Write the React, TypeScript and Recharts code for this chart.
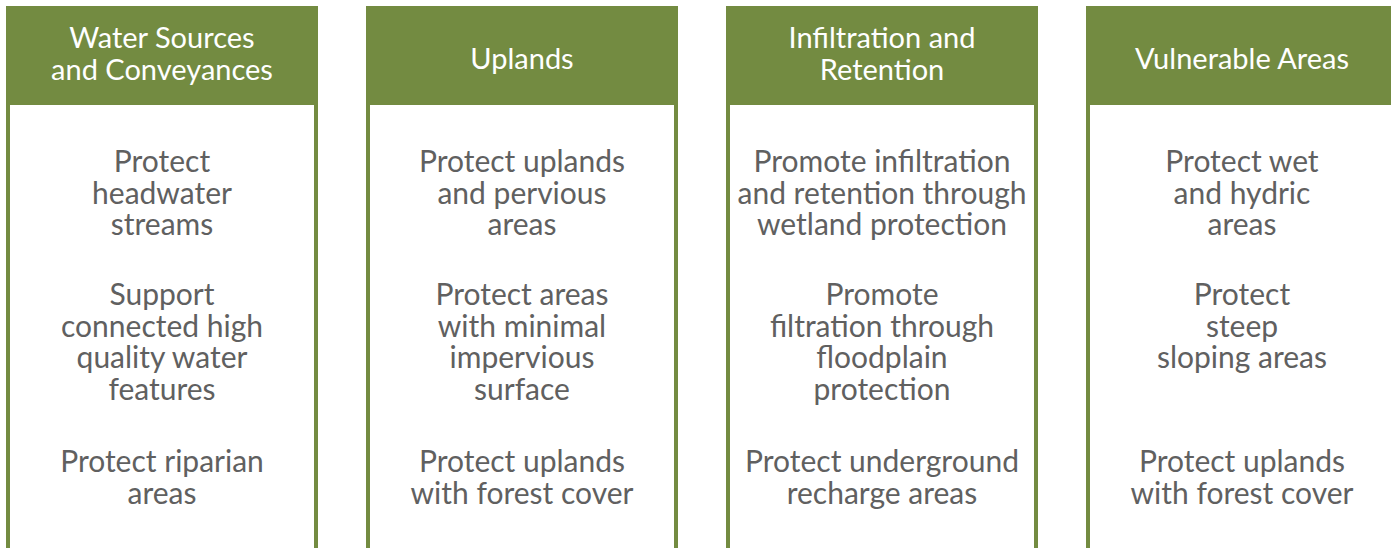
import { BarChart, Bar, XAxis, YAxis } from 'recharts'

// column titles, one array per column (lines)
const headers = [
  ['Water Sources', 'and Conveyances'],
  ['Uplands'],
  ['Infiltration and', 'Retention'],
  ['Vulnerable Areas'],
]

// three goal blocks per column, top to bottom
const goalsTop = [
  ['Protect', 'headwater', 'streams'],
  ['Protect uplands', 'and pervious', 'areas'],
  ['Promote infiltration', 'and retention through', 'wetland protection'],
  ['Protect wet', 'and hydric', 'areas'],
]
const goalsMiddle = [
  ['Support', 'connected high', 'quality water', 'features'],
  ['Protect areas', 'with minimal', 'impervious', 'surface'],
  ['Promote', 'filtration through', 'floodplain', 'protection'],
  ['Protect', 'steep', 'sloping areas'],
]
const goalsBottom = [
  ['Protect riparian', 'areas'],
  ['Protect uplands', 'with forest cover'],
  ['Protect underground', 'recharge areas'],
  ['Protect uplands', 'with forest cover'],
]

const GREEN = '#738b41'
const GREY = '#606060'
const FONT = 'Lato, "Open Sans", sans-serif'
const LINE = 31.5

// y scale runs in page pixels from the bottom (548 tall)
const BODY = 443
const HEAD = 99

const data = headers.map((h, i) => ({
  key: `c${i}`,
  title: h,
  goals: [goalsTop[i], goalsMiddle[i], goalsBottom[i]],
  body: BODY,
  head: HEAD,
}))

const goalBaselines = [172, 305, 472]

const Lines = ({ x, y, lines, fill, size }: { x: number; y: number; lines: string[]; fill: string; size: number }) => (
  <text x={x} y={y} textAnchor="middle" fill={fill} fontFamily={FONT} fontSize={size}>
    {lines.map((l, k) => (
      <tspan key={k} x={x} y={y + k * LINE}>{l}</tspan>
    ))}
  </text>
)

const BodyShape = (props: any) => {
  const { x, y, width, height, payload } = props
  const cx = x + width / 2
  return (
    <g>
      <rect x={x} y={y} width={width} height={height} fill="#fff" />
      <rect x={x} y={y} width={4} height={height} fill={GREEN} />
      <rect x={x + width - 4} y={y} width={4} height={height} fill={GREEN} />
      {payload.goals.map((g: string[], k: number) => (
        <Lines key={k} x={cx} y={goalBaselines[k]} lines={g} fill={GREY} size={30} />
      ))}
    </g>
  )
}

const HeadShape = (props: any) => {
  const { x, y, width, height, payload } = props
  const cx = x + width / 2
  const base = payload.title.length > 1 ? 48 : 69
  return (
    <g>
      <rect x={x} y={y} width={width} height={height} fill={GREEN} />
      <Lines x={cx} y={base} lines={payload.title} fill="#fff" size={29} />
    </g>
  )
}

export default function App() {
  return (
    <div style={{ position: 'absolute', left: 0, top: 0, width: 1391, height: 548, overflow: 'hidden', background: '#fff' }}>
      <div style={{ position: 'absolute', left: -18, top: 0 }}>
        <BarChart
          width={1440}
          height={548}
          data={data}
          margin={{ top: 0, right: 0, bottom: 0, left: 0 }}
          barCategoryGap={24}
        >
          <XAxis dataKey="key" hide />
          <YAxis hide domain={[0, 548]} allowDataOverflow />
          <Bar dataKey="body" stackId="a" shape={BodyShape} isAnimationActive={false} />
          <Bar dataKey="head" stackId="a" shape={HeadShape} isAnimationActive={false} />
        </BarChart>
      </div>
    </div>
  )
}
